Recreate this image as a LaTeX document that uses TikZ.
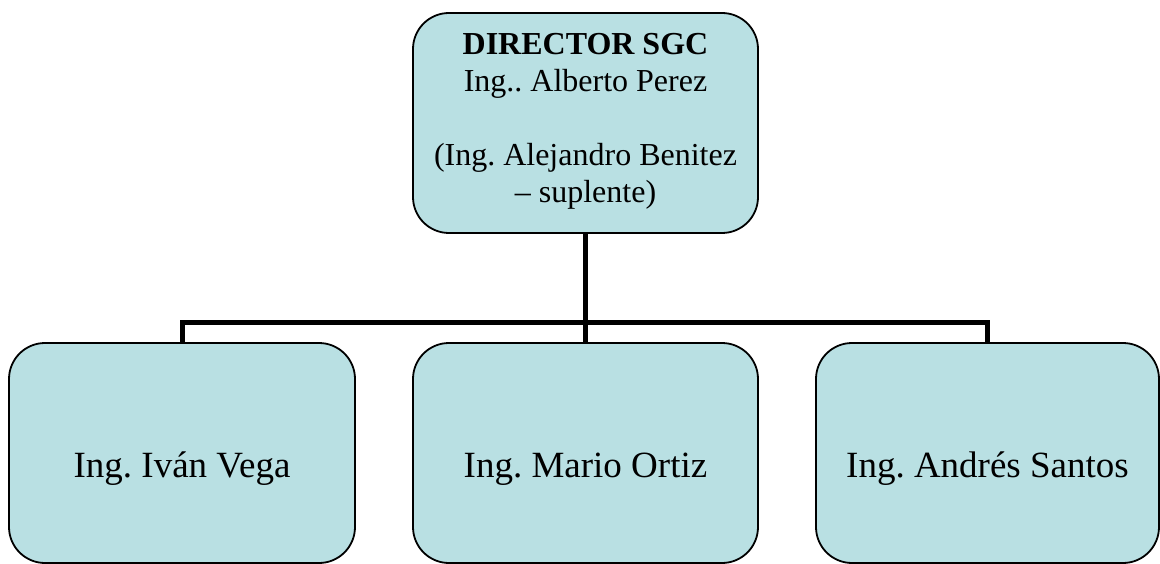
\documentclass[tikz,border=0pt]{standalone}
\usepackage{fontspec}
\setmainfont{Liberation Serif}
\frenchspacing
\definecolor{boxfill}{RGB}{185,224,227}
\begin{document}
\begin{tikzpicture}[x=1pt,y=-1pt,
  orgbox/.style={draw=black,line width=1.8pt,fill=boxfill,rounded corners=36pt,
    rectangle,inner sep=0pt,minimum height=220pt},
  conn/.style={draw=black,line width=5pt},
  bigtext/.style={font=\fontsize{37}{42}\selectfont,inner sep=0pt,anchor=base},
  toptext/.style={font=\fontsize{32}{37}\selectfont,inner sep=0pt,align=center,anchor=base}]
\useasboundingbox (0,0) rectangle (1160,564);

% boxes
\node[orgbox,minimum width=345pt] (dir) at (585.5,123) {};
\node[orgbox,minimum width=346pt] (b1) at (182,453) {};
\node[orgbox,minimum width=345pt] (b2) at (585.5,453) {};
\node[orgbox,minimum width=343pt] (b3) at (987.5,453) {};

% connectors
\coordinate (bus) at (585.5,322);
\draw[conn] (dir.south) -- (bus);
\draw[conn] (b1.north) |- (bus) -| (b3.north);
\draw[conn] (bus) -- (b2.north);

% labels (the base anchor of the multi-line label sits on its last line)
\node[toptext] (dirt) at (585.5,203) {\textbf{DIRECTOR SGC}\\Ing.. Alberto Perez\\[37pt](Ing. Alejandro Benitez\\– suplente)};
\node[bigtext] (t1) at (182,477) {Ing. Iván Vega};
\node[bigtext] (t2) at (585.5,477) {Ing. Mario Ortiz};
\node[bigtext] (t3) at (987.5,477) {Ing. Andrés Santos};
\end{tikzpicture}
\end{document}
